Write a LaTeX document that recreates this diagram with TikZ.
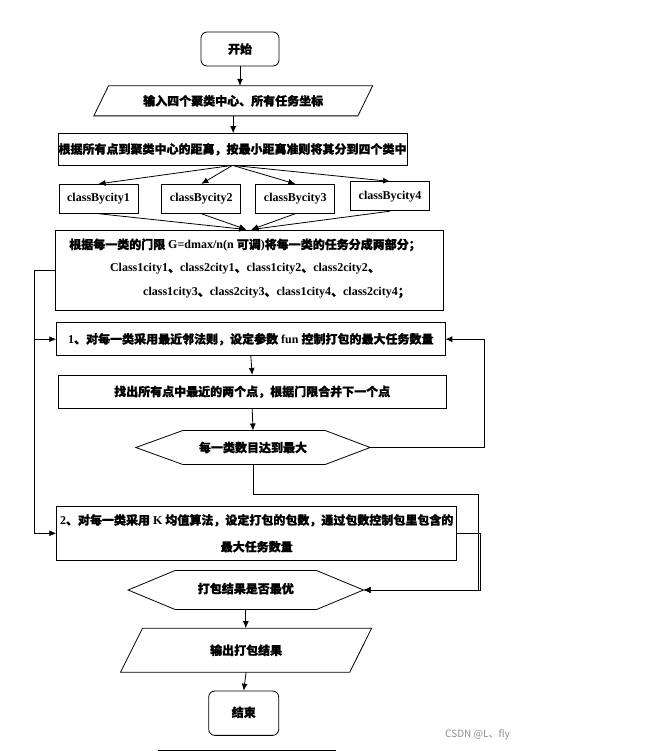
\documentclass[tikz,border=0pt]{standalone}
\usepackage{fontspec}
\setmainfont{Liberation Serif}
\newfontfamily\cjkf{Noto Sans CJK SC}[BoldFeatures={FakeBold=1.2}]
\newcommand\zh[1]{{\cjkf\bfseries #1}}
\usetikzlibrary{arrows.meta,calc}
\begin{document}
\begin{tikzpicture}[x=1pt,y=-1pt,
  box/.style={draw, line width=0.8pt, inner sep=0pt, font=\fontsize{12}{15}\selectfont\bfseries},
  ghost/.style={inner sep=0pt, font=\fontsize{12}{15}\selectfont\bfseries},
  txt/.style={inner sep=0pt, font=\fontsize{12}{15}\selectfont\bfseries},
  arr/.style={line width=0.8pt, -{Latex[length=7pt,width=6pt]}},
  ln/.style={line width=0.8pt}]
\useasboundingbox (0,0) rectangle (648,751);

% start
\node[box, rounded corners=6pt, minimum width=78pt, minimum height=34pt] (start) at (240,49) {\zh{开始}};

% input parallelogram
\node[ghost, minimum width=263.7pt, minimum height=29.7pt] (in) at (233.2,100.85) {\zh{输入四个聚类中心、所有任务坐标}};
\draw[ln] ($(in.north west)+(7.35,0)$) -- ($(in.north east)+(7.35,0)$) -- ($(in.south east)+(-7.35,0)$) -- ($(in.south west)+(-7.35,0)$) -- cycle;

% distance box
\node[box, minimum width=349pt, minimum height=31.3pt] (dist) at (232.5,149.3) {\zh{根据所有点到聚类中心的距离，按最小距离准则将其分到四个类中}};

% class boxes
\node[box, minimum width=79pt, minimum height=29pt] (c1) at (98.5,198.8) {classBycity1};
\node[box, minimum width=79pt, minimum height=29pt] (c2) at (201.3,198.8) {classBycity2};
\node[box, minimum width=79pt, minimum height=29pt] (c3) at (295.3,198.8) {classBycity3};
\node[box, minimum width=79pt, minimum height=29pt] (c4) at (390,196.3) {classBycity4};

% threshold box
\node[box, minimum width=388pt, minimum height=80.7pt] (thr) at (249.3,270.3) {};
\node[txt] (t1) at (245,245) {\zh{根据每一类的门限} G=dmax/n(n \zh{可调})\zh{将每一类的任务分成两部分；}};
\node[txt] (t2) at (245,269) {Class1city1\zh{、}class2city1\zh{、}class1city2\zh{、}class2city2\zh{、}};
\node[txt] (t3) at (276.5,293) {class1city3\zh{、}class2city3\zh{、}class1city4\zh{、}class2city4\zh{；}};

% method 1
\node[box, minimum width=388.3pt, minimum height=33pt] (k1) at (250.8,339.2) {1\zh{、对每一类采用最近邻法则，设定参数} fun \zh{控制打包的最大任务数量}};
\node[box, minimum width=387.7pt, minimum height=33pt] (find) at (252.2,391.8) {\zh{找出所有点中最近的两个点，根据门限合并下一个点}};

% hexagon 1
\node[ghost, minimum width=234pt, minimum height=33.6pt] (h1) at (253,447.5) {\zh{每一类数目达到最大}};
\draw[ln] (h1.west) -- ($(h1.north west)+(47,0)$) -- ($(h1.north east)+(-45,0)$) -- (h1.east) -- ($(h1.south east)+(-45,0)$) -- ($(h1.south west)+(47,0)$) -- cycle;

% method 2
\node[box, minimum width=400pt, minimum height=54.7pt, align=center] (k2) at (256.7,533.3) {2\zh{、对每一类采用} K \zh{均值算法，设定打包的包数，通过包数控制包里包含的}\\[11.7pt]\zh{最大任务数量}};

% hexagon 2
\node[ghost, minimum width=235pt, minimum height=38.6pt] (h2) at (245.8,590) {\raisebox{4pt}{\zh{打包结果是否最优}}};
\draw[ln] (h2.west) -- ($(h2.north west)+(47,0)$) -- ($(h2.north east)+(-47,0)$) -- (h2.east) -- ($(h2.south east)+(-47,0)$) -- ($(h2.south west)+(47,0)$) -- cycle;

% output parallelogram
\node[ghost, minimum width=228.8pt, minimum height=43.7pt] (out) at (246.1,650.2) {\zh{输出打包结果}};
\draw[ln] ($(out.north west)+(11,0)$) -- ($(out.north east)+(11,0)$) -- ($(out.south east)+(-11,0)$) -- ($(out.south west)+(-11,0)$) -- cycle;

% end
\node[box, rounded corners=6pt, minimum width=70pt, minimum height=44.3pt] (end) at (243.7,713.2) {\raisebox{3pt}{\zh{结束}}};

% connectors
\draw[arr] (start.south) -- (start.south |- in.north);
\draw[arr] (in.south) -- (in.south |- dist.north);
\draw[arr] (dist.south) -- (c1.north);
\draw[arr] (dist.south) -- (c2.north);
\draw[arr] (dist.south) -- (c3.north);
\draw[arr] (dist.south) -- (c4.north);
\draw[arr] (c1.south) -- ($(thr.north)+(-3,0)$);
\draw[arr] (c2.south) -- ($(thr.north)+(-3,0)$);
\draw[arr] (c3.south) -- ($(thr.north)+(2,0)$);
\draw[arr] (c4.south) -- ($(thr.north)+(2,0)$);

\coordinate (lx) at (34,270.3);
\draw[arr] (thr.west) -- (lx) |- (k2.west);
\draw[arr] (k1.west -| lx) -- (k1.west);

\draw[arr] (k1.south) -- (find.north);
\draw[arr] (find.south) -- (h1.north);

\coordinate (rx) at (484.3,447.5);
\draw[arr] (h1.east) -- (rx) |- (k1.east);

\coordinate (r2) at (478,494);
\draw[arr] (h1.south) |- (r2) |- (h2.east);
\coordinate (r3) at (480,533.3);
\draw[arr] (k2.east) -- (r3) |- (h2.east);

\draw[arr] (h2.south) -- (h2.south |- out.north);
\draw[arr] (out.south) -- (end.north);

% bottom rule
\coordinate (b1) at (157.7,750);
\coordinate (b2) at (336,750);
\draw[ln] (b1) -- (b2);

% watermark
\node[inner sep=0pt, text=black!45, font=\cjkf\fontsize{10}{12}\selectfont] (wm) at (477.5,735) {CSDN @L、fly};
\end{tikzpicture}
\end{document}
